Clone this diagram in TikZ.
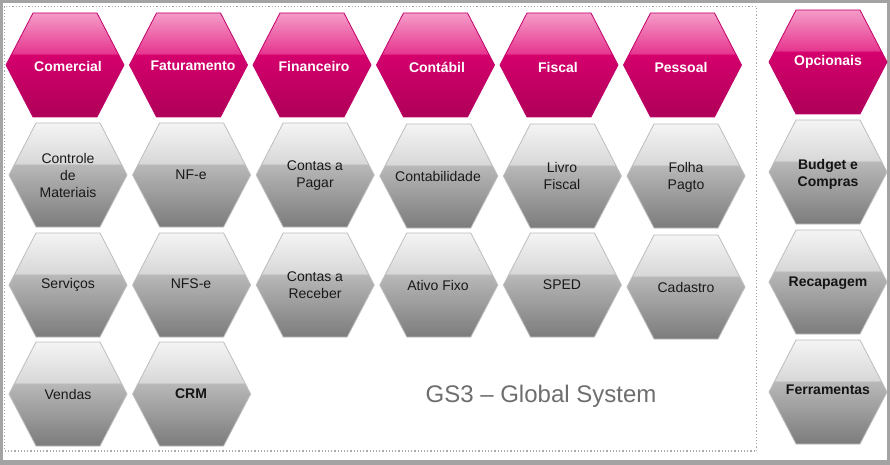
\documentclass[tikz,border=0pt]{standalone}
\usepackage{fontspec}
\setmainfont{Liberation Sans}
\definecolor{g1}{HTML}{7C7C7C}
\definecolor{g2}{HTML}{B8B8B8}
\definecolor{g3}{HTML}{D8D8D8}
\definecolor{g4}{HTML}{F4F4F4}
\definecolor{m1}{HTML}{AE0058}
\definecolor{m2}{HTML}{D5006D}
\definecolor{m3}{HTML}{E6378F}
\definecolor{m4}{HTML}{F59CC8}
\definecolor{hexborder}{HTML}{BDBDBD}
\definecolor{magborder}{HTML}{C2006A}
\definecolor{framegray}{HTML}{A3A3A3}
\definecolor{dotgray}{HTML}{ABABAB}
\definecolor{titlegray}{HTML}{6E6E6E}
\pgfdeclareverticalshading{grayglass}{100bp}{color(0bp)=(g1); color(25bp)=(g1); color(55bp)=(g2); color(55.5bp)=(g3); color(75bp)=(g4); color(100bp)=(g4)}
\pgfdeclareverticalshading{magglass}{100bp}{color(0bp)=(m1); color(25bp)=(m1); color(55bp)=(m2); color(55.5bp)=(m3); color(75bp)=(m4); color(100bp)=(m4)}
\newcommand\hexcell[3]{%
  \path[#3] (#1-59,#2) -- (#1-32,#2-52) -- (#1+32,#2-52) -- (#1+59,#2) -- (#1+32,#2+52) -- (#1-32,#2+52) -- cycle;}
\tikzset{
  grayhex/.style={shade, shading=grayglass, draw=hexborder, line width=0.8pt},
  maghex/.style={shade, shading=magglass, draw=magborder, line width=0.8pt},
  maglabel/.style={font=\fontsize{14}{17}\selectfont\bfseries, text=white, align=center, inner sep=0pt},
  graylabel/.style={font=\fontsize{14}{17}\selectfont, text=black!90, align=center, inner sep=0pt},
  graybold/.style={font=\fontsize{14}{17}\selectfont\bfseries, text=black!92, align=center, inner sep=0pt},
  titletext/.style={font=\fontsize{24}{28}\selectfont, inner sep=0pt, anchor=base, text=titlegray},
}
\begin{document}
\begin{tikzpicture}[x=1pt,y=-1pt]
\useasboundingbox (0,0) rectangle (890,465);
\fill[framegray] (0,0) rectangle (890,465);
\fill[white] (3,3) rectangle (887,460);
\draw[dotgray, line width=1.2pt, dotted] (4.5,6.5) rectangle (756.5,451);

% magenta header row
\hexcell{65}{65}{maghex}
\hexcell{188.5}{65}{maghex}
\hexcell{312}{65}{maghex}
\hexcell{435.5}{65}{maghex}
\hexcell{559}{65}{maghex}
\hexcell{682.5}{65}{maghex}
\hexcell{828}{62}{maghex}
\node[maglabel] (comercial) at (68,66) {Comercial};
\node[maglabel] (faturamento) at (193,66) {Faturamento};
\node[maglabel] (financeiro) at (314,66) {Financeiro};
\node[maglabel] (contabil) at (437,67) {Contábil};
\node[maglabel] (fiscal) at (558,67) {Fiscal};
\node[maglabel] (pessoal) at (681,67) {Pessoal};
\node[maglabel] (opcionais) at (828,62) {Opcionais};

% row 2
\hexcell{68}{175}{grayhex}
\hexcell{191.6}{175}{grayhex}
\hexcell{315.2}{175}{grayhex}
\hexcell{438.8}{176}{grayhex}
\hexcell{562.4}{176}{grayhex}
\hexcell{686}{176}{grayhex}
\node[graylabel] (controle) at (68,175) {Controle\\de\\Materiais};
\node[graylabel] (nfe) at (191,175) {NF-e};
\node[graylabel] (pagar) at (315,176) {Contas a\\Pagar};
\node[graylabel] (contabilidade) at (438,176) {Contabilidade};
\node[graylabel] (livro) at (562,176) {Livro\\Fiscal};
\node[graylabel] (folha) at (686,177) {Folha\\Pagto};

% row 3
\hexcell{68}{285}{grayhex}
\hexcell{191.6}{285}{grayhex}
\hexcell{315.2}{285}{grayhex}
\hexcell{438.8}{285}{grayhex}
\hexcell{562.4}{285}{grayhex}
\hexcell{686}{287}{grayhex}
\node[graylabel] (servicos) at (68,285) {Serviços};
\node[graylabel] (nfse) at (191,284) {NFS-e};
\node[graylabel] (receber) at (315,285) {Contas a\\Receber};
\node[graylabel] (ativo) at (438,285) {Ativo Fixo};
\node[graylabel] (sped) at (562,285) {SPED};
\node[graylabel] (cadastro) at (686,287) {Cadastro};

% row 4
\hexcell{68}{394}{grayhex}
\hexcell{191.6}{394}{grayhex}
\node[graylabel] (vendas) at (68,394) {Vendas};
\node[graybold] (crm) at (191,394) {CRM};

% optional column
\hexcell{828}{172}{grayhex}
\hexcell{828}{282}{grayhex}
\hexcell{828}{392}{grayhex}
\node[graybold] (budget) at (828,174) {Budget e\\Compras};
\node[graybold] (recapagem) at (828,283) {Recapagem};
\node[graybold] (ferramentas) at (828,390) {Ferramentas};

% title
\node[titletext] (gs3) at (541,402) {GS3 – Global System};
\end{tikzpicture}
\end{document}
